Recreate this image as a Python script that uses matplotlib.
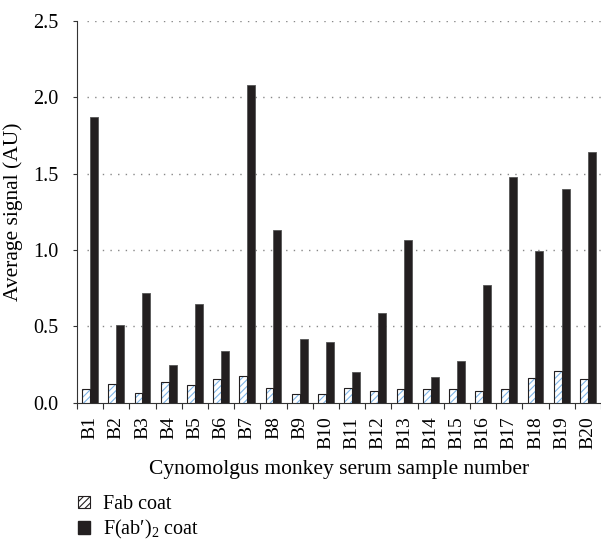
import numpy as np
import matplotlib
matplotlib.use("Agg")
import matplotlib.pyplot as plt
from matplotlib.patches import Patch

plt.rcParams['font.family'] = ['Liberation Serif', 'DejaVu Serif']
plt.rcParams['mathtext.fontset'] = 'custom'
plt.rcParams['mathtext.rm'] = 'Liberation Serif'
plt.rcParams['mathtext.it'] = 'Liberation Serif:italic'
plt.rcParams['hatch.linewidth'] = 0.8

# average signal per serum sample
samples = ["B%d" % i for i in range(1, 21)]
fab = [0.088, 0.12, 0.062, 0.137, 0.116, 0.153, 0.175, 0.094, 0.055, 0.055,
       0.098, 0.077, 0.088, 0.09, 0.087, 0.075, 0.087, 0.164, 0.205, 0.155]
fab2 = [1.87, 0.507, 0.717, 0.245, 0.645, 0.336, 2.083, 1.134, 0.417, 0.40,
        0.199, 0.585, 1.068, 0.17, 0.27, 0.772, 1.477, 0.995, 1.40, 1.64]

dark = "#231f20"
hatch_blue = "#7fb4e6"

fig = plt.figure(figsize=(6.01, 5.44), dpi=100)
ax = fig.add_axes([0.128, 0.26, 0.872, 0.701])

x = np.arange(len(samples))
w = 0.3

# hatched Fab bars: hatch layer first, then black outline on top
ax.bar(x - w / 2, fab, w, color="white", edgecolor=hatch_blue, hatch="/////",
       linewidth=0, zorder=3)
ax.bar(x - w / 2, fab, w, fill=False, edgecolor=dark, linewidth=0.8, zorder=4)
ax.bar(x + w / 2, fab2, w, color=dark, edgecolor="#555555", linewidth=0.6, zorder=3)

ax.set_xlim(-0.5, len(samples) - 0.5)
ax.set_ylim(0, 2.5)
ax.set_yticks(np.arange(0, 2.51, 0.5))
ax.set_yticklabels(["%.1f" % v for v in np.arange(0, 2.51, 0.5)], fontsize=14.5)
ax.tick_params(axis="y", length=3, width=0.8, color="#333333", pad=10)

ax.set_xticks(x)
ax.set_xticklabels(samples, rotation=90, fontsize=14)
ax.set_xticks(np.arange(-0.5, len(samples)), minor=True)
ax.tick_params(axis="x", which="major", length=0, pad=10)
ax.tick_params(axis="x", which="minor", length=4, width=0.8, color="#333333")

for y in [0.5, 1.0, 1.5, 2.0, 2.5]:
    ax.axhline(y, xmin=0.02, xmax=1, color="#888888", linestyle=(0, (1, 4.5)),
               linewidth=1.0, zorder=1)

for side in ["top", "right"]:
    ax.spines[side].set_visible(False)
ax.spines["left"].set_color("#333333")
ax.spines["bottom"].set_color("#333333")

ax.set_ylabel("Average signal (AU)", fontsize=15.5, labelpad=8)
ax.set_xlabel("Cynomolgus monkey serum sample number", fontsize=15.5, labelpad=8)

handles = [
    Patch(facecolor="white", edgecolor=hatch_blue, hatch="/////", linewidth=0),
    Patch(facecolor=dark, edgecolor=dark),
]
leg = fig.legend(handles, ["Fab coat", "F(ab\u2032)$_2$ coat"], loc="upper left",
                 bbox_to_anchor=(0.13, 0.09), frameon=False, fontsize=14.5,
                 handlelength=0.6, handleheight=0.6, handletextpad=0.65,
                 labelspacing=0.2, borderaxespad=0, borderpad=0)
# dark outline around the hatched legend key
leg.legend_handles[0].set_edgecolor(dark)
leg.legend_handles[0].set_linewidth(0.8)

fig.savefig("out.png", dpi=100)
